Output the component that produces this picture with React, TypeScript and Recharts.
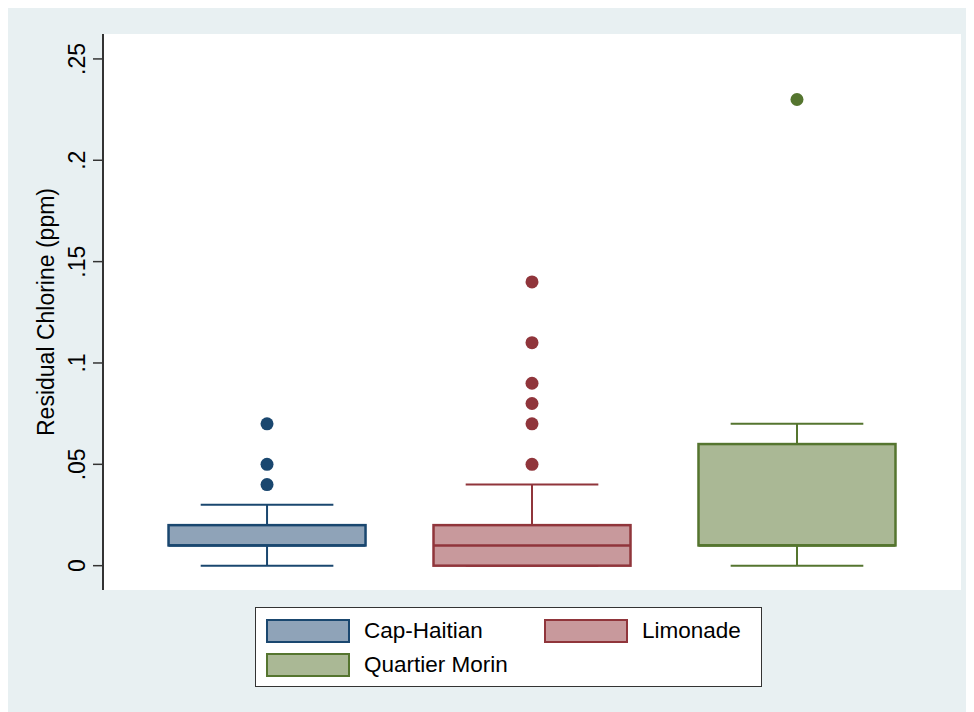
import { ComposedChart, Bar, Scatter, XAxis, YAxis, CartesianGrid } from "recharts";

// Residual chlorine by commune
const communes = ["Cap-Haitian", "Limonade", "Quartier Morin"];
const positions = [1, 2, 3];
const lowerWhisker = [0, 0, 0];
const firstQuartile = [0.01, 0, 0.01];
const medians = [0.01, 0.01, 0.01];
const thirdQuartile = [0.02, 0.02, 0.06];
const upperWhisker = [0.03, 0.04, 0.07];
const outliers = [
  [0.04, 0.05, 0.07],
  [0.05, 0.07, 0.08, 0.09, 0.11, 0.14],
  [0.23],
];
const yTicks = [0, 0.05, 0.1, 0.15, 0.2, 0.25];

const lineColors = ["#1A476F", "#90353B", "#55752F"];
const fillColors = ["#8FA3B8", "#C8999C", "#AAB895"];
const FONT = '"Liberation Sans", Arial, sans-serif';
const BOX_WIDTH = 199;

const boxRows = positions.map((x, i) => ({
  x,
  base: lowerWhisker[i],
  lowSpan: firstQuartile[i] - lowerWhisker[i],
  boxSpan: thirdQuartile[i] - firstQuartile[i],
  highSpan: upperWhisker[i] - thirdQuartile[i],
}));

const medianRows = positions.map((x, i) => ({ x, y: medians[i] }));
const outlierRows = outliers.map((vals, i) => vals.map((y) => ({ x: positions[i], y })));

const fmtTick = (v: number) => (v === 0 ? "0" : String(v).replace(/^0/, ""));

function YTick(props: any) {
  const { x, y, payload } = props;
  const tx = x - 14;
  return (
    <text
      x={tx}
      y={y}
      transform={`rotate(-90, ${tx}, ${y})`}
      textAnchor="middle"
      dominantBaseline="central"
      fontFamily={FONT}
      fontSize={23}
      fill="#000"
    >
      {fmtTick(payload.value)}
    </text>
  );
}

function LowWhisker(props: any) {
  const { x, y, width, height, index } = props;
  const cx = x + width / 2;
  const cap = width / 3;
  const c = lineColors[index];
  return (
    <g>
      <line x1={cx} x2={cx} y1={y} y2={y + height} stroke={c} strokeWidth={2} />
      <line x1={x + cap / 2} x2={x + width - cap / 2} y1={y + height} y2={y + height} stroke={c} strokeWidth={2} />
    </g>
  );
}

function HighWhisker(props: any) {
  const { x, y, width, height, index } = props;
  const cx = x + width / 2;
  const cap = width / 3;
  const c = lineColors[index];
  return (
    <g>
      <line x1={cx} x2={cx} y1={y} y2={y + height} stroke={c} strokeWidth={2} />
      <line x1={x + cap / 2} x2={x + width - cap / 2} y1={y} y2={y} stroke={c} strokeWidth={2} />
    </g>
  );
}

function BoxShape(props: any) {
  const { x, y, width, height, index } = props;
  return (
    <rect
      x={x + 1}
      y={y}
      width={width - 2}
      height={height}
      fill={fillColors[index]}
      stroke={lineColors[index]}
      strokeWidth={2.5}
    />
  );
}

function MedianLine(props: any) {
  const { cx, cy, index } = props;
  return (
    <line
      x1={cx - BOX_WIDTH / 2 + 1}
      x2={cx + BOX_WIDTH / 2 - 1}
      y1={cy}
      y2={cy}
      stroke={lineColors[index]}
      strokeWidth={2.5}
    />
  );
}

const dot = (color: string) => (props: any) => <circle cx={props.cx} cy={props.cy} r={6.5} fill={color} />;

function LegendBox() {
  const items = [
    { i: 0, left: 10, top: 11 },
    { i: 1, left: 288, top: 11 },
    { i: 2, left: 10, top: 45 },
  ];
  return (
    <div
      style={{
        position: "absolute",
        left: 250,
        top: 599,
        width: 505,
        height: 78,
        background: "#fff",
        border: "1.5px solid #333",
        fontFamily: FONT,
        fontSize: 22.5,
      }}
    >
      {items.map(({ i, left, top }) => (
        <div key={communes[i]} style={{ position: "absolute", left, top, display: "flex", alignItems: "center" }}>
          <div
            style={{
              width: 80,
              height: 20,
              background: fillColors[i],
              border: `2px solid ${lineColors[i]}`,
            }}
          />
          <span style={{ marginLeft: 14, color: "#000", lineHeight: "24px" }}>{communes[i]}</span>
        </div>
      ))}
    </div>
  );
}

export default function App() {
  return (
    <div
      style={{
        position: "relative",
        marginLeft: -3,
        width: 963,
        height: 704,
        background: "#E8F0F2",
      }}
    >
      <ComposedChart
        width={963}
        height={704}
        data={boxRows}
        margin={{ top: 26, right: 7, left: 28, bottom: 122 }}
        style={{ position: "absolute", left: 0, top: 0 }}
      >
        <rect x={98} y={26} width={858} height={556} fill="#fff" />
        <CartesianGrid vertical={false} stroke="#E8F0F2" strokeWidth={2} fill="#fff" />
        <XAxis
          dataKey="x"
          type="number"
          domain={[0.381, 3.619]}
          allowDataOverflow
          tick={false}
          tickLine={false}
          height={0}
          axisLine={{ stroke: "#333", strokeWidth: 2 }}
        />
        <YAxis
          type="number"
          domain={[-0.012, 0.2623]}
          allowDataOverflow
          ticks={yTicks}
          width={70}
          tickSize={10}
          tick={<YTick />}
          tickLine={{ stroke: "#333", strokeWidth: 1.5 }}
          axisLine={{ stroke: "#333", strokeWidth: 2 }}
          label={{
            value: "Residual Chlorine (ppm)",
            angle: -90,
            position: "center",
            dx: -22,
            style: { fontFamily: FONT, fontSize: 23, fill: "#000" },
          }}
        />
        <Bar dataKey="base" stackId="box" barSize={BOX_WIDTH} fill="none" isAnimationActive={false} />
        <Bar dataKey="lowSpan" stackId="box" barSize={BOX_WIDTH} shape={<LowWhisker />} isAnimationActive={false} />
        <Bar dataKey="boxSpan" stackId="box" barSize={BOX_WIDTH} shape={<BoxShape />} isAnimationActive={false} />
        <Bar dataKey="highSpan" stackId="box" barSize={BOX_WIDTH} shape={<HighWhisker />} isAnimationActive={false} />
        <Scatter data={medianRows} dataKey="y" shape={<MedianLine />} isAnimationActive={false} />
        {outlierRows.map((rows, i) => (
          <Scatter key={communes[i]} data={rows} dataKey="y" shape={dot(lineColors[i])} isAnimationActive={false} />
        ))}
      </ComposedChart>
      <LegendBox />
    </div>
  );
}
